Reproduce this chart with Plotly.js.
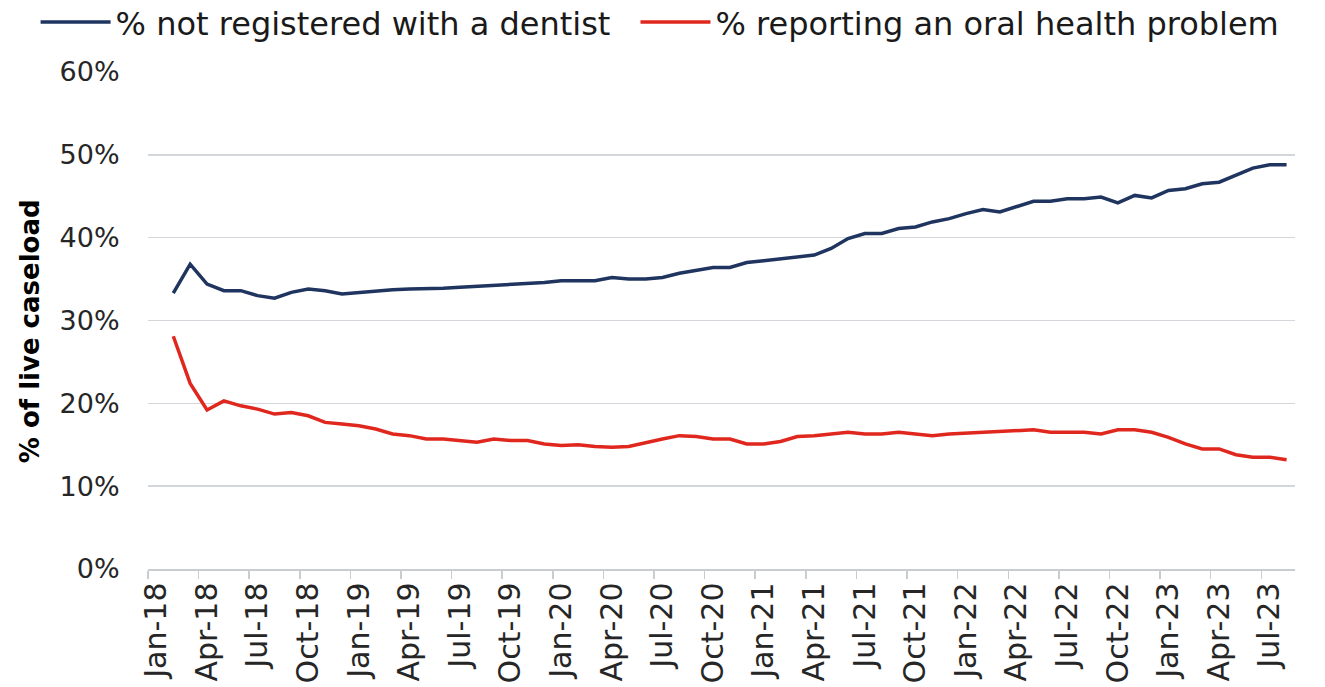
<!DOCTYPE html>
<html>
<head>
<meta charset="utf-8">
<script src="https://cdn.plot.ly/plotly-3.0.1.min.js"></script>
<style>html,body{margin:0;padding:0;background:#fff;}#chart{width:1325px;height:687px;}</style>
</head>
<body>
<div id="chart"></div>
<script>
// Monthly categories Jan-18 .. Aug-23
const months = ["Jan","Feb","Mar","Apr","May","Jun","Jul","Aug","Sep","Oct","Nov","Dec"];
const categories = [];
for (let y = 18; y <= 23; y++) {
  for (let m = 0; m < 12; m++) {
    if (y === 23 && m > 7) break;
    categories.push(months[m] + "-" + y);
  }
}
// % not registered with a dentist (Jan-18 blank, Feb-18 .. Aug-23)
const notRegistered = [null,
  33.3, 36.8, 34.4, 33.6, 33.6, 33.0, 32.7, 33.4, 33.8, 33.6, 33.2,
  33.4, 33.6, 33.7, 33.8, 33.8, 33.9, 34.0, 34.1, 34.2, 34.4, 34.4, 34.6,
  34.8, 34.8, 34.8, 35.2, 35.0, 35.0, 35.2, 35.7, 36.0, 36.4, 36.4, 37.0,
  37.2, 37.4, 37.7, 37.9, 38.7, 39.9, 40.5, 40.5, 41.1, 41.3, 41.9, 42.3,
  42.9, 43.4, 43.1, 43.7, 44.4, 44.4, 44.7, 44.7, 44.9, 44.2, 45.1, 44.8,
  45.7, 45.9, 46.5, 46.7, 47.6, 48.4, 48.8, 48.8];
// % reporting an oral health problem
const oralProblem = [null,
  28.1, 22.4, 19.2, 20.3, 19.7, 19.3, 18.7, 18.9, 18.5, 17.7, 17.5,
  17.3, 16.9, 16.3, 16.1, 15.7, 15.7, 15.5, 15.3, 15.7, 15.5, 15.5, 15.1,
  14.9, 15.0, 14.8, 14.7, 14.8, 15.3, 15.7, 16.1, 16.0, 15.7, 15.7, 15.1,
  15.1, 15.4, 16.0, 16.1, 16.3, 16.5, 16.3, 16.3, 16.5, 16.3, 16.1, 16.3,
  16.4, 16.4, 16.6, 16.6, 16.8, 16.5, 16.5, 16.5, 16.3, 16.8, 16.8, 16.5,
  15.9, 15.1, 14.5, 14.5, 13.8, 13.5, 13.5, 13.2];
const seriesNames = ["% not registered with a dentist", "% reporting an oral health problem"];
const yTicks = [0, 10, 20, 30, 40, 50, 60];

const font = "DejaVu Sans, sans-serif";
const traces = [
  {x: categories, y: notRegistered, name: seriesNames[0], type: "scatter", mode: "lines",
   line: {color: "#1f3560", width: 3.5}, connectgaps: false, legend: "legend"},
  {x: categories, y: oralProblem, name: seriesNames[1], type: "scatter", mode: "lines",
   line: {color: "#e0271e", width: 3.5}, connectgaps: false, legend: "legend2"}
];
const legendBase = {orientation: "h", xanchor: "left", y: 1.10, yanchor: "middle",
  font: {family: font, size: 32, color: "#1a1a1a"}, itemwidth: 70, bgcolor: "rgba(0,0,0,0)"};
const layout = {
  width: 1325, height: 687,
  margin: {l: 148, r: 30, t: 72, b: 118, autoexpand: false},
  paper_bgcolor: "#fff", plot_bgcolor: "#fff",
  font: {family: font, color: "#262626"},
  showlegend: true,
  legend: Object.assign({}, legendBase, {x: -0.098}),
  legend2: Object.assign({}, legendBase, {x: 0.425}),
  xaxis: {type: "category", categoryorder: "array", categoryarray: categories,
          range: [-0.5, categories.length - 0.5],
          tickmode: "linear", tick0: 0, dtick: 3, tickson: "boundaries",
          tickangle: -90, ticks: "outside", ticklen: 8, tickwidth: 1.5, tickcolor: "#c9ccd1",
          showgrid: false, showline: true, linecolor: "#c9ccd1", linewidth: 1.5,
          tickfont: {family: font, size: 30, color: "#262626"}, fixedrange: true},
  yaxis: {range: [0, 60], tickvals: yTicks, ticktext: yTicks.map(v => v + "%"),
          showgrid: true, gridcolor: "#d3d6da", gridwidth: 1.5, zeroline: false,
          ticks: "outside", ticklen: 22, tickcolor: "rgba(0,0,0,0)",
          tickfont: {family: font, size: 27, color: "#262626"},
          title: {text: "% of live caseload<span style='color:rgba(0,0,0,0)'>--</span>", standoff: 12,
                  font: {family: font, size: 26, color: "#000", weight: "bold"}},
          fixedrange: true}
};
Plotly.newPlot("chart", traces, layout, {displayModeBar: false, staticPlot: true});
</script>
</body>
</html>
